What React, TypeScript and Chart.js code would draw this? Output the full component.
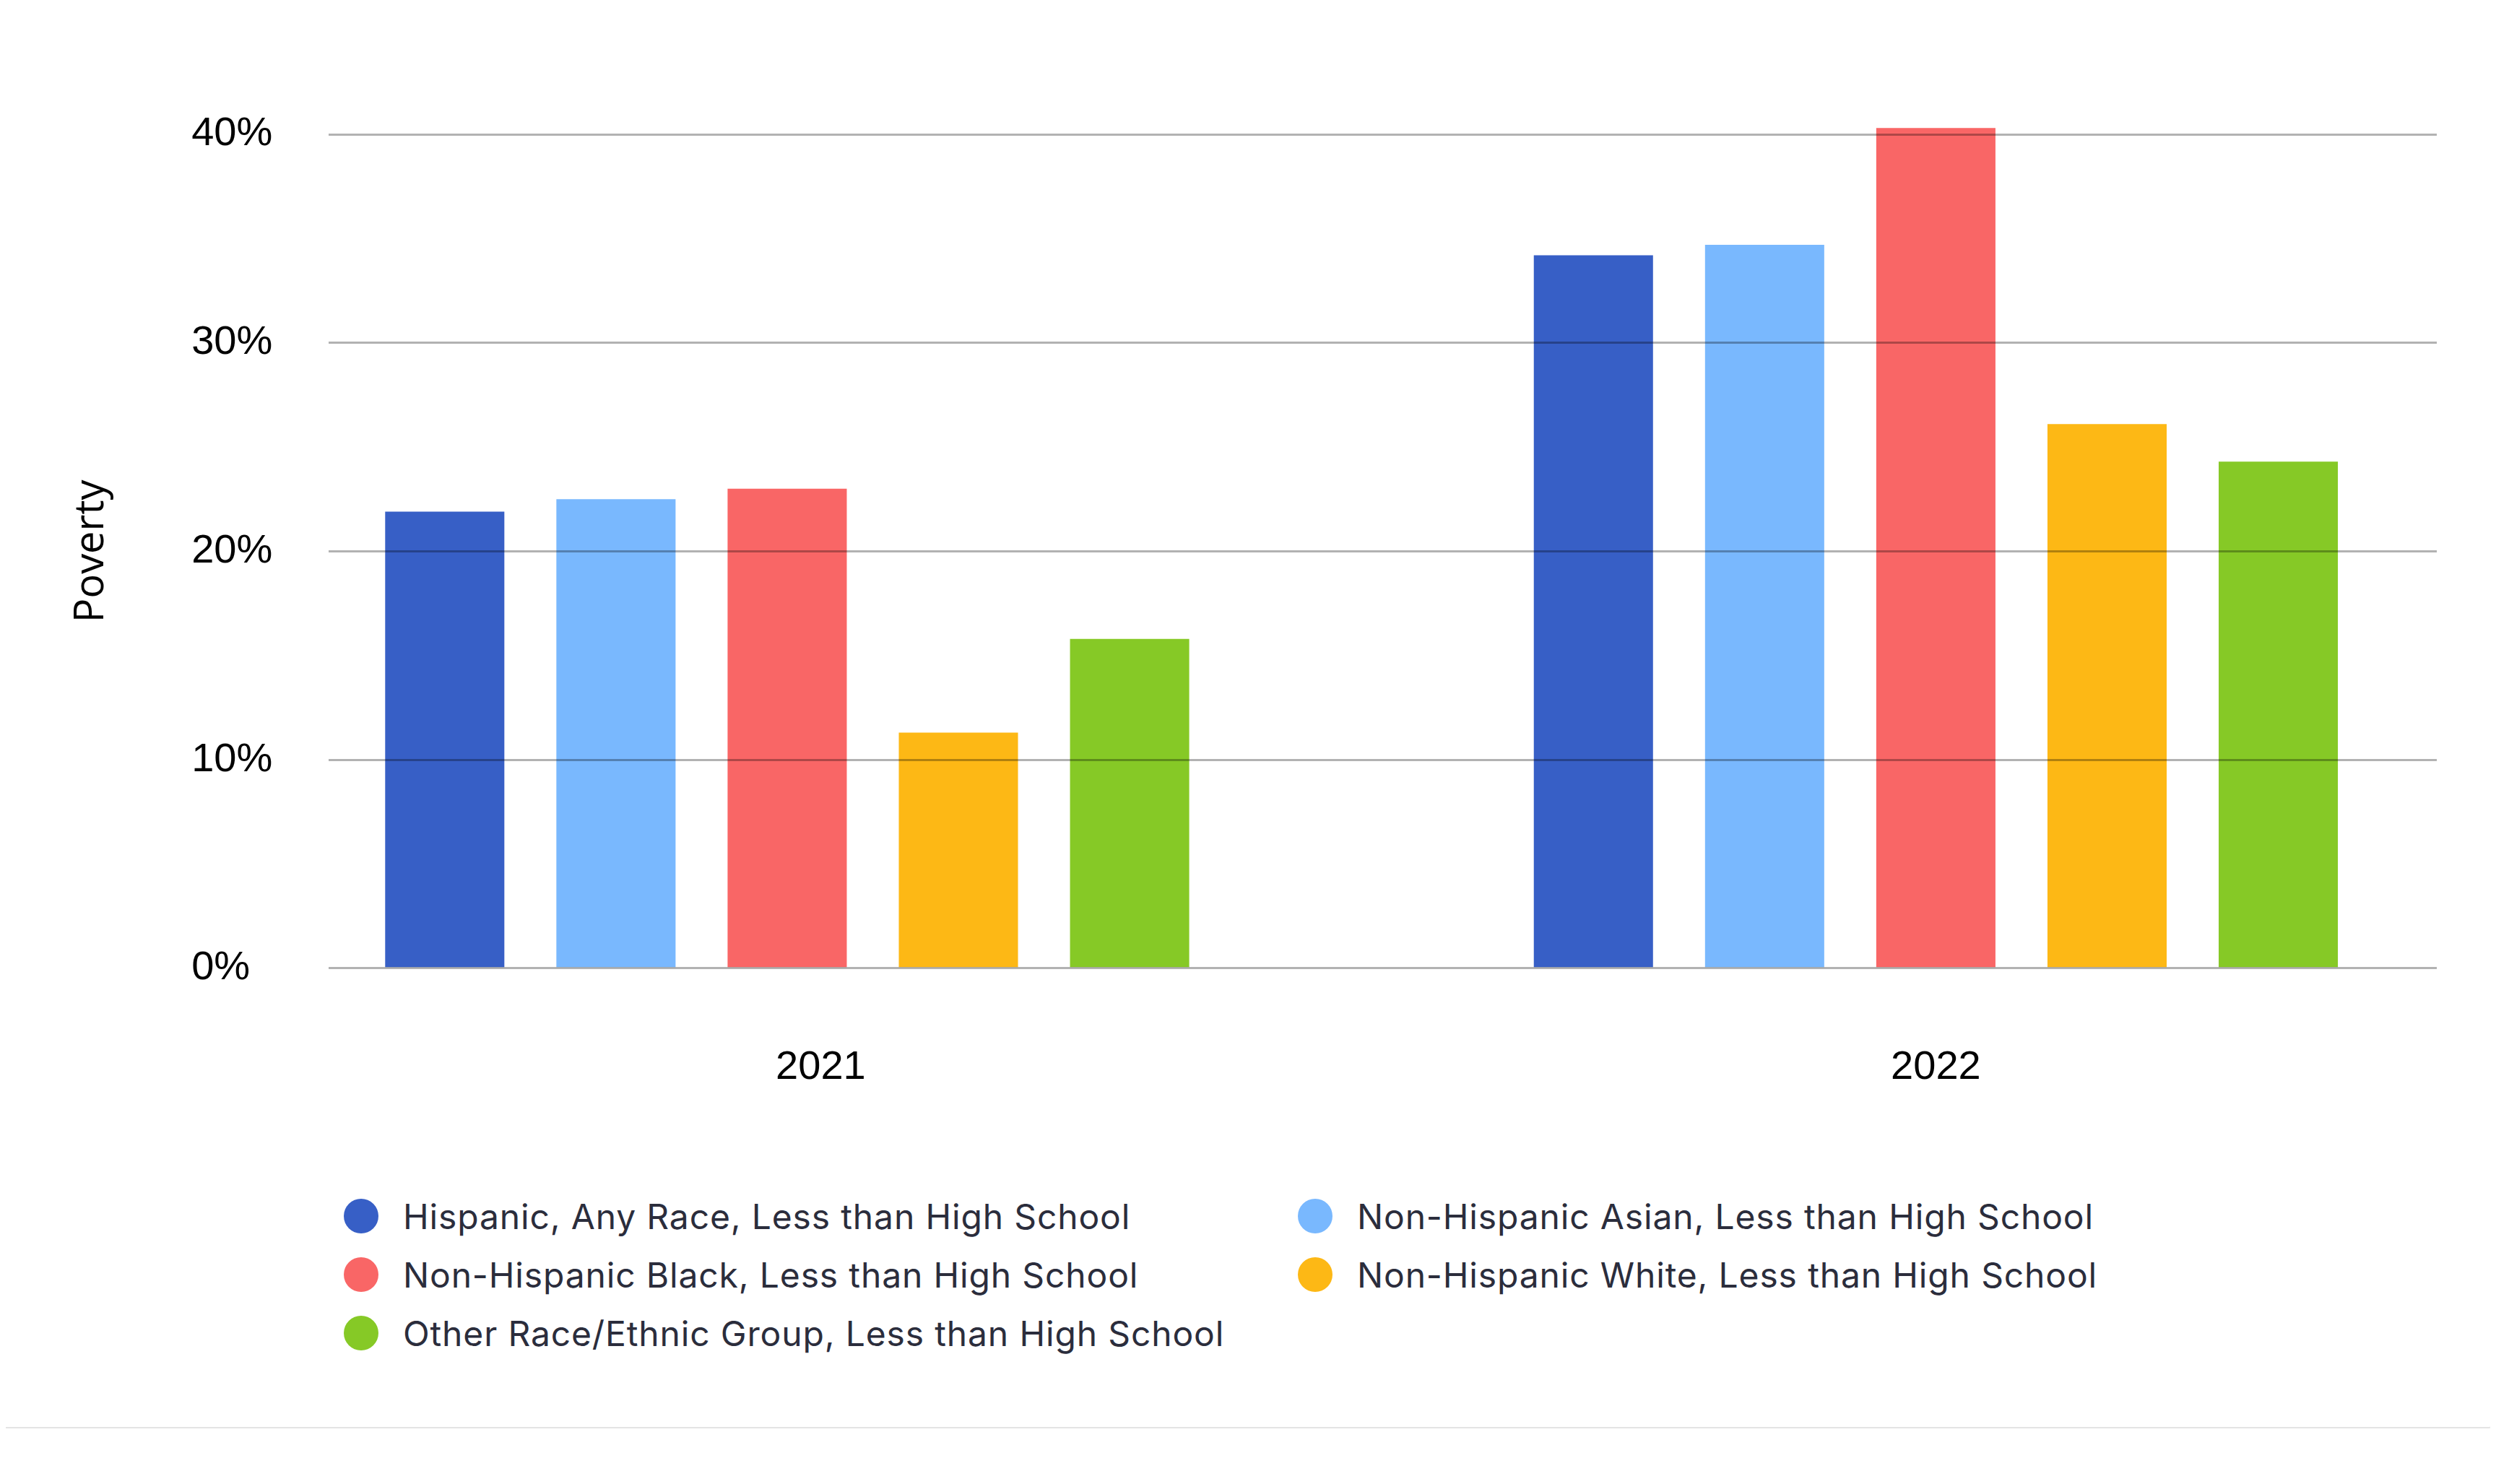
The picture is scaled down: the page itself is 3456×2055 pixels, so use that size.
import React, { useEffect, useRef } from 'react';
import { Chart, registerables } from 'chart.js';

Chart.register(...registerables);

const years = ['2021', '2022'];
const seriesNames = [
  'Hispanic, Any Race, Less than High School',
  'Non-Hispanic Asian, Less than High School',
  'Non-Hispanic Black, Less than High School',
  'Non-Hispanic White, Less than High School',
  'Other Race/Ethnic Group, Less than High School',
];
const seriesColors = ['#375FC6', '#79B8FE', '#F96666', '#FDB815', '#86C926'];
const hispanic = [21.9, 34.2];
const asian = [22.5, 34.7];
const black = [23.0, 40.3];
const white = [11.3, 26.1];
const other = [15.8, 24.3];
const seriesValues = [hispanic, asian, black, white, other];
const yTicks = [0, 10, 20, 30, 40];
const yTitle = 'Poverty';

// small horizontal nudge of each category label (in category units), as in the reference
const labelNudge = [0.0292, 0];

export default function App() {
  const canvasRef = useRef<HTMLCanvasElement | null>(null);

  useEffect(() => {
    if (!canvasRef.current) return;
    const chart = new Chart(canvasRef.current, {
      type: 'bar',
      data: {
        datasets: seriesNames.map((name, i) => ({
          label: name,
          data: seriesValues[i].map((v, j) => ({ x: j, y: v })),
          backgroundColor: seriesColors[i],
          borderWidth: 0,
          categoryPercentage: 0.7677,
          barPercentage: 0.6962,
          clip: false,
        })),
      },
      options: {
        animation: false,
        responsive: true,
        maintainAspectRatio: false,
        layout: { padding: { top: 178, left: 0, right: 74, bottom: 0 } },
        plugins: {
          legend: { display: false },
          tooltip: { enabled: false },
          title: {
            display: true,
            text: yTitle,
            position: 'left',
            fullSize: false,
            color: '#000',
            font: { family: 'Open Sans', size: 56, weight: 'normal' },
            padding: { top: 85, bottom: 105 },
          },
        },
        scales: {
          x: {
            type: 'linear',
            min: -0.3991,
            max: 1.4361,
            offset: false,
            grid: { display: false, drawTicks: false },
            border: { display: false },
            afterBuildTicks: (s: any) => {
              s.ticks = years.map((_, i) => ({ value: i + labelNudge[i] }));
            },
            ticks: {
              autoSkip: false,
              maxRotation: 0,
              padding: 104,
              color: '#000',
              font: { family: 'Liberation Sans', size: 56 },
              callback: (_v: any, idx: number) => years[idx] ?? '',
            },
          },
          y: {
            min: 0,
            max: 40,
            afterBuildTicks: (s: any) => {
              s.ticks = yTicks.map((v) => ({ value: v }));
            },
            afterFit: (s: any) => {
              s.width = 190;
            },
            grid: { color: 'rgba(0,0,0,0.3)', lineWidth: 3, drawTicks: false, z: 1 },
            border: { display: false },
            ticks: {
              crossAlign: 'far',
              color: '#000',
              font: { family: 'Liberation Sans', size: 56 },
              callback: (v: any) => v + '%',
            },
          },
        },
      } as any,
    });
    return () => chart.destroy();
  }, []);

  return (
    <div style={{ position: 'relative', width: 3440, height: 2039 }}>
      <div style={{ position: 'absolute', left: 0, top: 0, width: 3440, height: 1608 }}>
        <canvas ref={canvasRef} />
      </div>
      <div
        style={{
          position: 'absolute',
          left: 468,
          top: 1635.5,
          display: 'grid',
          gridTemplateColumns: '1321px 1321px',
          gridAutoRows: '81px',
          fontFamily: 'Inter',
          fontSize: 48,
          letterSpacing: '0.85px',
          color: '#2b2d3c',
        }}
      >
        {seriesNames.map((name, i) => (
          <div key={name} style={{ display: 'flex', alignItems: 'center', whiteSpace: 'nowrap' }}>
            <span
              style={{
                display: 'inline-block',
                width: 48,
                height: 48,
                borderRadius: '50%',
                background: seriesColors[i],
                marginRight: 34,
                flex: 'none',
              }}
            />
            <span>{name}</span>
          </div>
        ))}
      </div>
      <div
        style={{
          position: 'absolute',
          left: -8,
          top: 1594,
          width: 3454,
          height: 376,
          borderRight: '2px solid #e4e4e4',
          borderBottom: '2px solid #e4e4e4',
          borderBottomRightRadius: 8,
          boxSizing: 'border-box',
          pointerEvents: 'none',
        }}
      />
    </div>
  );
}
